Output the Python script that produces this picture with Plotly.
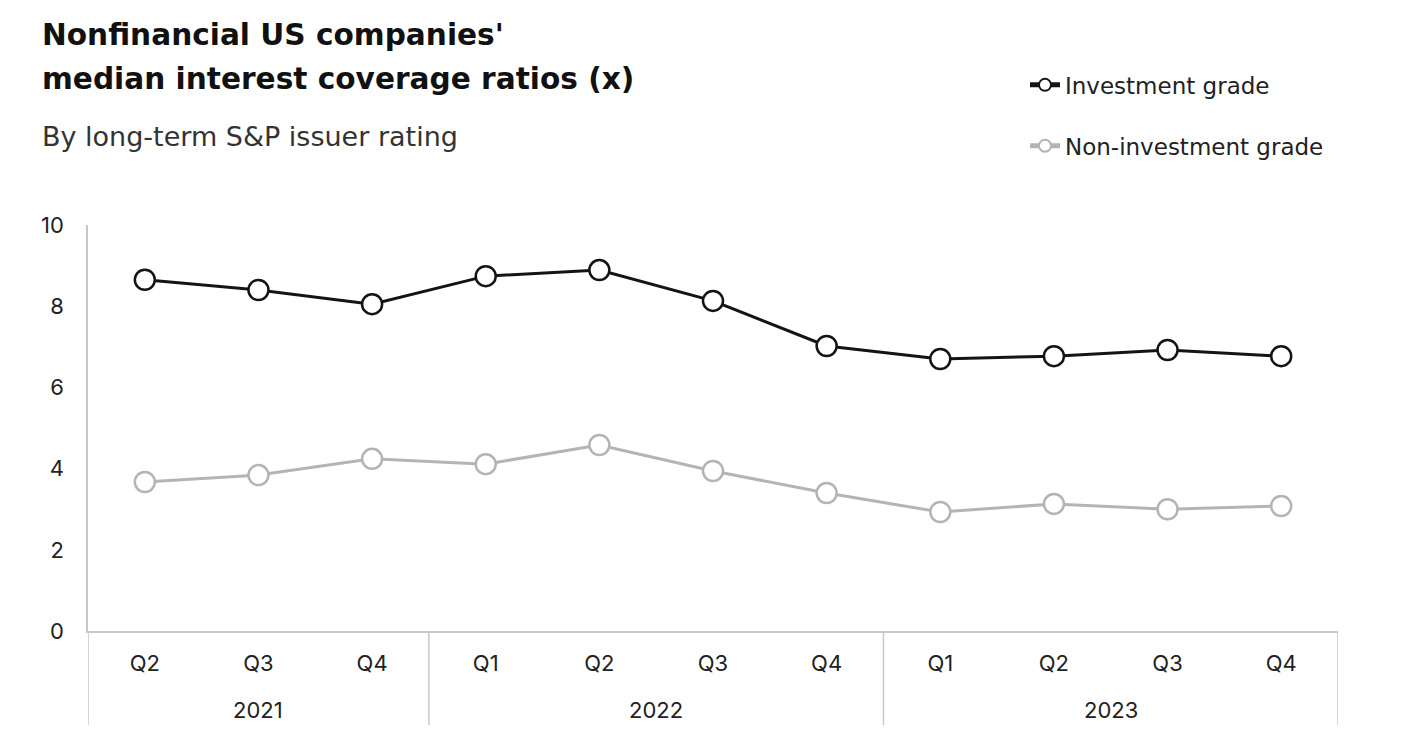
import plotly.graph_objects as go

years = ["2021", "2021", "2021", "2022", "2022", "2022", "2022", "2023", "2023", "2023", "2023"]
quarters = ["Q2", "Q3", "Q4", "Q1", "Q2", "Q3", "Q4", "Q1", "Q2", "Q3", "Q4"]
investment_grade = [8.65, 8.40, 8.05, 8.74, 8.89, 8.13, 7.02, 6.70, 6.77, 6.92, 6.77]
non_investment_grade = [3.67, 3.84, 4.24, 4.11, 4.58, 3.94, 3.40, 2.93, 3.13, 3.00, 3.08]
y_ticks = [0, 2, 4, 6, 8, 10]

FONT = "Inter"
WIDE = "DejaVu Sans"
BLACK = "#141414"
GRAY = "#b4b4b4"
AXIS = "#c8c8c8"
TEXT = "#222222"

x_keys = [f"{q} {y}" for q, y in zip(quarters, years)]

fig = go.Figure()
fig.add_trace(go.Scatter(
    x=x_keys, y=investment_grade, name="Investment grade",
    mode="lines+markers", legendgroup="a",
    line=dict(color=BLACK, width=3),
    marker=dict(symbol="circle", size=20, color="white", line=dict(color=BLACK, width=2.5)),
))
fig.add_trace(go.Scatter(
    x=x_keys, y=non_investment_grade, name="Non-investment grade",
    mode="lines+markers", legendgroup="b",
    line=dict(color=GRAY, width=3),
    marker=dict(symbol="circle", size=20, color="white", line=dict(color=GRAY, width=2.5)),
))

# year group labels and dividers, positioned on the category axis
unique_years = list(dict.fromkeys(years))
annotations = []
shapes = []
boundaries = [-0.5]
for yr in unique_years:
    idx = [i for i, v in enumerate(years) if v == yr]
    center = sum(idx) / len(idx)
    annotations.append(dict(
        text=yr, xref="x", yref="paper", x=center, y=-0.1946,
        xanchor="center", yanchor="middle", showarrow=False,
        font=dict(size=22, family=FONT, color=TEXT),
    ))
    boundaries.append(idx[-1] + 0.5)
for b in boundaries:
    shapes.append(dict(
        type="line", xref="x", yref="paper", x0=b, x1=b, y0=0, y1=-0.2315,
        line=dict(color=AXIS, width=1.5),
    ))

annotations += [
    dict(text="<b>Nonfinancial US companies'</b>",
         xref="paper", yref="paper", x=-0.0384, y=(623 - 27) / 406,
         xanchor="left", yanchor="middle", showarrow=False, align="left",
         font=dict(size=29.6, family=WIDE, color="#111111")),
    dict(text="<b>median interest coverage ratios (x)</b>",
         xref="paper", yref="paper", x=-0.0384, y=(623 - 71) / 406,
         xanchor="left", yanchor="middle", showarrow=False, align="left",
         font=dict(size=29.6, family=WIDE, color="#111111")),
    dict(text="By long-term S&P issuer rating",
         xref="paper", yref="paper", x=-0.0384, y=(623 - 128) / 406,
         xanchor="left", yanchor="middle", showarrow=False, align="left",
         font=dict(size=27, family=WIDE, color="#333333")),
]

fig.update_layout(
    width=1406, height=734,
    margin=dict(l=80, r=76, t=217, b=111),
    paper_bgcolor="white", plot_bgcolor="white",
    font=dict(family=FONT, color=TEXT, size=22),
    showlegend=True,
    legend=dict(
        x=0.7496, y=1.398, xanchor="left", yanchor="top",
        font=dict(size=23, family=WIDE, color=TEXT),
        tracegroupgap=28, bgcolor="rgba(0,0,0,0)", itemsizing="constant",
    ),
    annotations=annotations,
    shapes=shapes,
)

fig.update_xaxes(
    type="category", tickvals=x_keys, ticktext=quarters, range=[-0.5, len(x_keys) - 0.5],
    showline=True, linecolor=AXIS, linewidth=1.5, automargin=False,
    showgrid=False, ticks="", ticklabelstandoff=12,
    tickfont=dict(size=22, family=FONT, color=TEXT),
)
fig.update_yaxes(
    range=[0, 10], tickvals=y_ticks, showline=True, linecolor=AXIS, linewidth=1.5,
    showgrid=False, zeroline=False, ticks="", ticklabelstandoff=18, automargin=False,
    tickfont=dict(size=22, family=FONT, color=TEXT),
)

fig.write_html("out.html")
